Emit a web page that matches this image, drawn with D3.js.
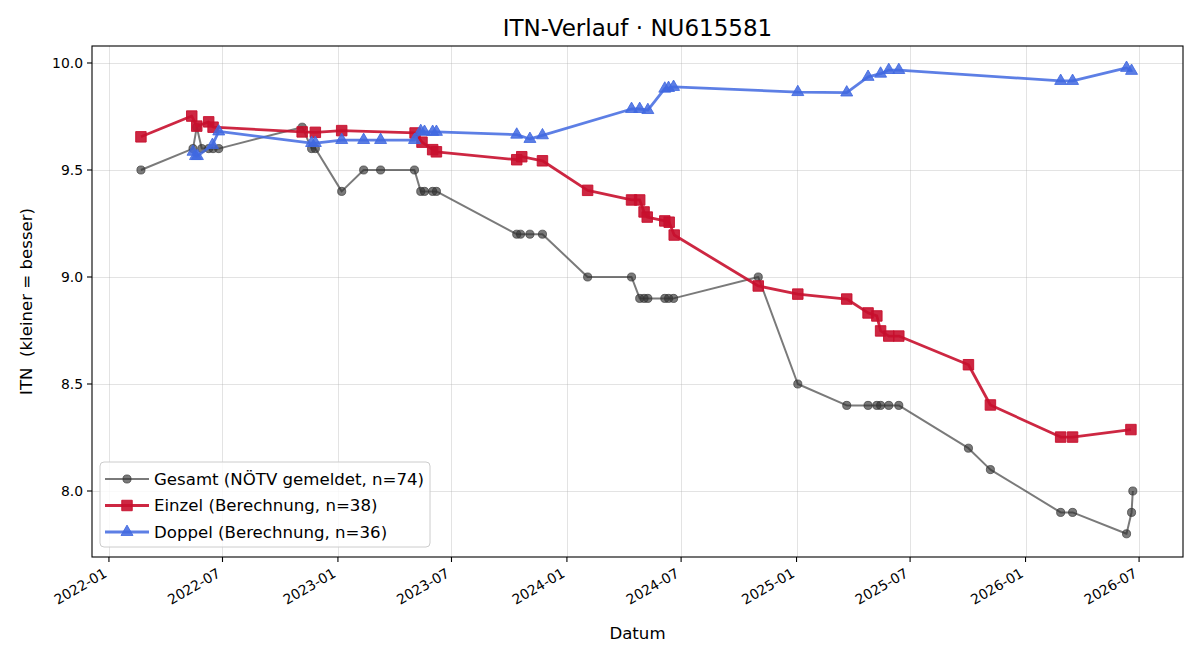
<!DOCTYPE html>
<html>
<head>
<meta charset="utf-8">
<script src="https://cdn.jsdelivr.net/npm/d3@7"></script>
<style>
  body { margin: 0; background: #fff; }
</style>
</head>
<body>
<script>
// --- data ------------------------------------------------------------------
const gesamtDates = [
  "2022-02-21", "2022-05-15", "2022-05-21", "2022-05-29", "2022-06-09", "2022-06-16", "2022-06-25",
  "2022-11-05", "2022-11-20", "2022-11-26", "2023-01-07", "2023-02-11", "2023-03-10", "2023-05-03",
  "2023-05-13", "2023-05-19", "2023-06-01", "2023-06-07", "2023-10-13", "2023-10-19", "2023-11-03",
  "2023-11-23", "2024-02-03", "2024-04-13", "2024-04-26", "2024-05-03", "2024-05-09", "2024-06-05",
  "2024-06-11", "2024-06-19", "2024-11-01", "2025-01-03", "2025-03-22", "2025-04-25", "2025-05-09",
  "2025-05-15", "2025-05-28", "2025-06-13", "2025-10-02", "2025-11-06", "2026-02-26", "2026-03-17",
  "2026-06-11", "2026-06-19", "2026-06-21"
];
const gesamtValues = [
  9.5, 9.6, 9.7, 9.6, 9.6, 9.6, 9.6,
  9.7, 9.6, 9.6, 9.4, 9.5, 9.5, 9.5,
  9.4, 9.4, 9.4, 9.4, 9.2, 9.2, 9.2,
  9.2, 9.0, 9.0, 8.9, 8.9, 8.9, 8.9,
  8.9, 8.9, 9.0, 8.5, 8.4, 8.4, 8.4,
  8.4, 8.4, 8.4, 8.2, 8.1, 7.9, 7.9,
  7.8, 7.9, 8.0
];

const einzelDates = [
  "2022-02-21", "2022-05-13", "2022-05-21", "2022-06-09", "2022-06-16", "2022-11-05", "2022-11-26",
  "2023-01-07", "2023-05-04", "2023-05-15", "2023-06-01", "2023-06-07", "2023-10-13", "2023-10-21",
  "2023-11-23", "2024-02-03", "2024-04-13", "2024-04-26", "2024-05-03", "2024-05-08", "2024-06-05",
  "2024-06-12", "2024-06-20", "2024-11-01", "2025-01-03", "2025-03-22", "2025-04-25", "2025-05-09",
  "2025-05-15", "2025-05-28", "2025-06-13", "2025-10-02", "2025-11-06", "2026-02-26", "2026-03-17",
  "2026-06-18"
];
const einzelValues = [
  9.655, 9.752, 9.705, 9.725, 9.700, 9.678, 9.676,
  9.684, 9.673, 9.630, 9.595, 9.585, 9.548, 9.562,
  9.543, 9.405, 9.360, 9.360, 9.304, 9.280, 9.262,
  9.256, 9.196, 8.958, 8.920, 8.897, 8.832, 8.818,
  8.748, 8.724, 8.724, 8.590, 8.402, 8.252, 8.252,
  8.287
];

const doppelDates = [
  "2022-05-15", "2022-05-19", "2022-05-22", "2022-06-15", "2022-06-25", "2022-11-20", "2022-11-26",
  "2023-01-07", "2023-02-11", "2023-03-10", "2023-05-03", "2023-05-13", "2023-05-19", "2023-06-01",
  "2023-06-07", "2023-10-13", "2023-11-03", "2023-11-23", "2024-04-13", "2024-04-26", "2024-05-09",
  "2024-06-05", "2024-06-11", "2024-06-19", "2025-01-03", "2025-03-22", "2025-04-25", "2025-05-15",
  "2025-05-28", "2025-06-13", "2026-02-26", "2026-03-17", "2026-06-11", "2026-06-19"
];
const doppelValues = [
  9.585, 9.565, 9.565, 9.617, 9.680, 9.626, 9.626,
  9.640, 9.640, 9.640, 9.640, 9.682, 9.678, 9.678,
  9.678, 9.665, 9.645, 9.662, 9.785, 9.785, 9.780,
  9.880, 9.883, 9.888, 9.864, 9.862, 9.935, 9.950,
  9.967, 9.967, 9.916, 9.916, 9.977, 9.963
];

const xTickLabels = ["2022-01", "2022-07", "2023-01", "2023-07", "2024-01", "2024-07",
                     "2025-01", "2025-07", "2026-01", "2026-07"];
const yTickValues = [8.0, 8.5, 9.0, 9.5, 10.0];

const legendLabels = [
  "Gesamt (NÖTV gemeldet, n=74)",
  "Einzel (Berechnung, n=38)",
  "Doppel (Berechnung, n=36)"
];

// --- layout ------------------------------------------------------------------
const W = 1200, H = 660;
const plot = { left: 92, right: 1183, top: 46, bottom: 557 };
const FONT = "'DejaVu Sans', Verdana, sans-serif";

const COLORS = {
  gesamt: { line: "#333333", op: 0.65 },
  einzel: { line: "#C8102E", op: 0.9 },
  doppel: { line: "#4169E1", op: 0.85 }
};

const parse = d3.timeParse("%Y-%m-%d");
const zip = (ds, vs) => ds.map((d, i) => ({ date: parse(d), value: vs[i] }));
const gesamt = zip(gesamtDates, gesamtValues);
const einzel = zip(einzelDates, einzelValues);
const doppel = zip(doppelDates, doppelValues);

const svg = d3.select("body").append("svg")
  .attr("width", W).attr("height", H)
  .style("font-family", FONT)
  .style("background", "#fff");

const x = d3.scaleTime()
  .domain([parse("2021-12-05"), parse("2026-09-09")])
  .range([plot.left, plot.right]);
const y = d3.scaleLinear()
  .domain([7.6916, 10.0794])
  .range([plot.bottom, plot.top]);

const xTicks = xTickLabels.map(d3.timeParse("%Y-%m"));

// grid
const grid = svg.append("g").attr("stroke", "#b0b0b0").attr("stroke-opacity", 0.35).attr("stroke-width", 1);
grid.selectAll(".gx").data(xTicks).join("line")
  .attr("x1", d => Math.round(x(d)) + 0.5).attr("x2", d => Math.round(x(d)) + 0.5)
  .attr("y1", plot.top).attr("y2", plot.bottom);
grid.selectAll(".gy").data(yTickValues).join("line")
  .attr("y1", d => Math.round(y(d)) + 0.5).attr("y2", d => Math.round(y(d)) + 0.5)
  .attr("x1", plot.left).attr("x2", plot.right);

// series
const line = d3.line().x(d => x(d.date)).y(d => y(d.value));

function drawSeries(data, c, lw, marker) {
  const g = svg.append("g");
  g.append("path").datum(data)
    .attr("fill", "none")
    .attr("stroke", c.line)
    .attr("stroke-opacity", c.op)
    .attr("stroke-width", lw)
    .attr("stroke-linejoin", "round")
    .attr("d", line);
  g.selectAll(".m").data(data).join("path")
    .attr("transform", d => `translate(${x(d.date)},${y(d.value)})`)
    .attr("d", marker)
    .attr("fill", c.line).attr("fill-opacity", c.op)
    .attr("stroke", c.line).attr("stroke-opacity", c.op).attr("stroke-width", 1);
}

const circleM = d3.symbol(d3.symbolCircle, 52)();
const squareM = d3.symbol(d3.symbolSquare, 110)();
const triM = d3.symbol(d3.symbolTriangle, 62)();

drawSeries(gesamt, COLORS.gesamt, 2, circleM);
drawSeries(einzel, COLORS.einzel, 2.8, squareM);
drawSeries(doppel, COLORS.doppel, 2.8, triM);

// frame
svg.append("rect")
  .attr("x", plot.left).attr("y", plot.top)
  .attr("width", plot.right - plot.left).attr("height", plot.bottom - plot.top)
  .attr("fill", "none").attr("stroke", "#000").attr("stroke-width", 1.1);

// x axis
const xAxis = svg.append("g");
xAxis.selectAll("line").data(xTicks).join("line")
  .attr("x1", d => x(d)).attr("x2", d => x(d))
  .attr("y1", plot.bottom).attr("y2", plot.bottom + 5)
  .attr("stroke", "#000").attr("stroke-width", 1.1);
xAxis.selectAll("text").data(xTicks).join("text")
  .attr("transform", d => `translate(${x(d) - 1},${plot.bottom + 19}) rotate(-30)`)
  .attr("text-anchor", "end")
  .attr("font-size", 13.9)
  .attr("fill", "#000")
  .text(d3.timeFormat("%Y-%m"));

// y axis
const yAxis = svg.append("g");
yAxis.selectAll("line").data(yTickValues).join("line")
  .attr("x1", plot.left - 5).attr("x2", plot.left)
  .attr("y1", d => y(d)).attr("y2", d => y(d))
  .attr("stroke", "#000").attr("stroke-width", 1.1);
yAxis.selectAll("text").data(yTickValues).join("text")
  .attr("x", plot.left - 9).attr("y", d => y(d))
  .attr("dy", "0.36em")
  .attr("text-anchor", "end")
  .attr("font-size", 13.9)
  .attr("fill", "#000")
  .text(d3.format(".1f"));

// labels
svg.append("text")
  .attr("x", (plot.left + plot.right) / 2).attr("y", 36)
  .attr("text-anchor", "middle").attr("font-size", 23)
  .text("ITN-Verlauf · NU615581");
svg.append("text")
  .attr("x", (plot.left + plot.right) / 2).attr("y", 639)
  .attr("text-anchor", "middle").attr("font-size", 16.6)
  .text("Datum");
svg.append("text")
  .attr("transform", `translate(32,${(plot.top + plot.bottom) / 2}) rotate(-90)`)
  .attr("text-anchor", "middle").attr("font-size", 16.6)
  .attr("xml:space", "preserve")
  .style("white-space", "pre")
  .text("ITN  (kleiner = besser)");

// legend
const lg = svg.append("g").attr("transform", "translate(100,462)");
lg.append("rect")
  .attr("width", 330).attr("height", 85).attr("rx", 4)
  .attr("fill", "#fff").attr("fill-opacity", 0.8)
  .attr("stroke", "#cccccc").attr("stroke-width", 1);
const legendItems = [
  { c: COLORS.gesamt, lw: 2, m: circleM },
  { c: COLORS.einzel, lw: 2.8, m: squareM },
  { c: COLORS.doppel, lw: 2.8, m: triM }
];
legendItems.forEach((it, i) => {
  const row = lg.append("g").attr("transform", `translate(0,${17 + i * 26.5})`);
  row.append("line").attr("x1", 5).attr("x2", 49)
    .attr("stroke", it.c.line).attr("stroke-opacity", it.c.op).attr("stroke-width", it.lw);
  row.append("path").attr("transform", "translate(27,0)").attr("d", it.m)
    .attr("fill", it.c.line).attr("fill-opacity", it.c.op)
    .attr("stroke", it.c.line).attr("stroke-opacity", it.c.op);
  row.append("text").attr("x", 54).attr("dy", "0.36em")
    .attr("font-size", 16.6).text(legendLabels[i]);
});
</script>
</body>
</html>
